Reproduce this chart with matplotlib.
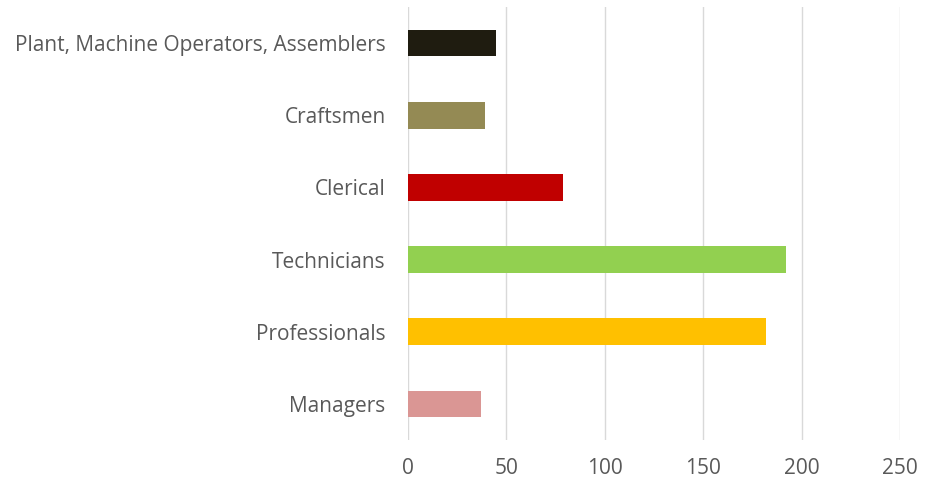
import matplotlib
matplotlib.use("Agg")
import matplotlib.pyplot as plt

categories = ["Managers", "Professionals", "Technicians", "Clerical",
              "Craftsmen", "Plant, Machine Operators, Assemblers"]
values = [37, 182, 192, 79, 39, 45]
colors = ["#da9694", "#ffc000", "#92d050", "#c00000", "#948a54", "#1f1c10"]
xticks = [0, 50, 100, 150, 200, 250]

plt.rcParams['font.family'] = ['Open Sans', 'DejaVu Sans']

fig = plt.figure(figsize=(9.29, 4.88), dpi=100)
ax = fig.add_axes([0.439, 0.098, 0.53, 0.888])

ax.barh(range(len(categories)), values, height=0.37, color=colors, zorder=3)

ax.set_xlim(0, 250)
ax.set_ylim(-0.5, len(categories) - 0.5)
ax.set_xticks(xticks)
ax.set_yticks(range(len(categories)))
ax.set_yticklabels(categories)
ax.grid(axis="x", color="#d9d9d9", linewidth=1, zorder=0)
for s in ax.spines.values():
    s.set_visible(False)
ax.tick_params(axis="both", length=0, colors="#595959", labelsize=15)
ax.tick_params(axis="y", pad=16)
ax.tick_params(axis="x", pad=13)

fig.savefig("out.png", dpi=100)
